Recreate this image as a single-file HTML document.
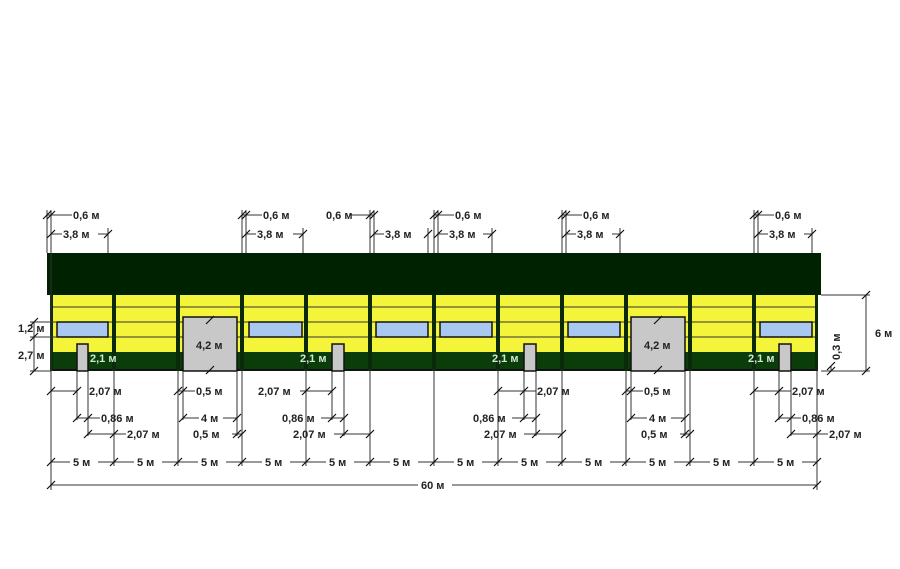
<!DOCTYPE html>
<html><head><meta charset="utf-8"><style>
html,body{margin:0;padding:0;background:#fff;}
svg{display:block;}
text{font-family:"Liberation Sans",sans-serif;font-weight:bold;font-size:11px;fill:#222;}
</style></head><body>
<svg width="900" height="569" viewBox="0 0 900 569" xmlns="http://www.w3.org/2000/svg">
<defs>
<g id="t"><line x1="-4" y1="4" x2="4" y2="-4" stroke="#111" stroke-width="1.2"/></g>
</defs>
<!-- wall -->
<rect x="51" y="295" width="766" height="76" fill="#f4f43a"/>
<g stroke="#333" stroke-width="1">
<line x1="51" y1="307" x2="817" y2="307"/>
<line x1="51" y1="322" x2="817" y2="322"/>
<line x1="51" y1="337" x2="817" y2="337"/>
</g>
<rect x="51" y="352" width="766" height="19" fill="#0b3d0b"/>
<rect x="51" y="369" width="766" height="2" fill="#111"/>
<!-- roof -->
<rect x="47" y="253" width="774" height="42" fill="#012201"/>
<!-- posts -->
<g fill="#0a2a0a">
<rect x="50" y="295" width="3" height="76"/>
<rect x="815" y="295" width="3" height="76"/>
<rect x="112" y="295" width="4" height="76"/><rect x="176" y="295" width="4" height="76"/>
<rect x="240" y="295" width="4" height="76"/><rect x="304" y="295" width="4" height="76"/>
<rect x="368" y="295" width="4" height="76"/><rect x="432" y="295" width="4" height="76"/>
<rect x="496" y="295" width="4" height="76"/><rect x="560" y="295" width="4" height="76"/>
<rect x="624" y="295" width="4" height="76"/><rect x="688" y="295" width="4" height="76"/>
<rect x="752" y="295" width="4" height="76"/>
</g>
<!-- windows -->
<g fill="#a8c8f0" stroke="#111" stroke-width="1.5">
<rect x="57" y="322" width="51" height="15"/>
<rect x="249" y="322" width="53" height="15"/>
<rect x="376" y="322" width="52" height="15"/>
<rect x="440" y="322" width="52" height="15"/>
<rect x="568" y="322" width="52" height="15"/>
<rect x="760" y="322" width="52" height="15"/>
</g>
<!-- doors -->
<g fill="#c8c8c8" stroke="#111" stroke-width="1.5">
<rect x="183" y="317" width="54" height="54"/>
<rect x="631" y="317" width="54" height="54"/>
<rect x="77" y="344" width="11" height="27"/>
<rect x="332" y="344" width="12" height="27"/>
<rect x="524" y="344" width="12" height="27"/>
<rect x="779" y="344" width="12" height="27"/>
</g>
<!-- extension lines -->
<g stroke="#333" stroke-width="1">
<line x1="47" y1="210" x2="47" y2="253"/><line x1="51" y1="210" x2="51" y2="490"/><line x1="108" y1="228" x2="108" y2="253"/>
<line x1="242" y1="210" x2="242" y2="253"/><line x1="246" y1="210" x2="246" y2="253"/><line x1="303" y1="228" x2="303" y2="253"/>
<line x1="370" y1="210" x2="370" y2="253"/><line x1="374" y1="210" x2="374" y2="253"/><line x1="428" y1="228" x2="428" y2="253"/>
<line x1="434" y1="210" x2="434" y2="253"/><line x1="438" y1="210" x2="438" y2="253"/><line x1="492" y1="228" x2="492" y2="253"/>
<line x1="562" y1="210" x2="562" y2="253"/><line x1="566" y1="210" x2="566" y2="253"/><line x1="620" y1="228" x2="620" y2="253"/>
<line x1="754" y1="210" x2="754" y2="253"/><line x1="758" y1="210" x2="758" y2="253"/><line x1="812" y1="228" x2="812" y2="253"/>
<line x1="817" y1="371" x2="817" y2="490"/>
<line x1="114" y1="371" x2="114" y2="466"/><line x1="178" y1="371" x2="178" y2="466"/><line x1="242" y1="371" x2="242" y2="466"/>
<line x1="306" y1="371" x2="306" y2="466"/><line x1="370" y1="371" x2="370" y2="466"/><line x1="434" y1="371" x2="434" y2="466"/>
<line x1="498" y1="371" x2="498" y2="466"/><line x1="562" y1="371" x2="562" y2="466"/><line x1="626" y1="371" x2="626" y2="466"/>
<line x1="690" y1="371" x2="690" y2="466"/><line x1="754" y1="371" x2="754" y2="466"/>
<line x1="77" y1="371" x2="77" y2="420"/><line x1="88" y1="371" x2="88" y2="436"/>
<line x1="183" y1="371" x2="183" y2="420"/><line x1="237" y1="371" x2="237" y2="436"/>
<line x1="332" y1="371" x2="332" y2="420"/><line x1="344" y1="371" x2="344" y2="436"/>
<line x1="524" y1="371" x2="524" y2="420"/><line x1="536" y1="371" x2="536" y2="436"/>
<line x1="631" y1="371" x2="631" y2="420"/><line x1="685" y1="371" x2="685" y2="436"/>
<line x1="779" y1="371" x2="779" y2="420"/><line x1="791" y1="371" x2="791" y2="436"/>
<!-- dim lines top -->
<line x1="47" y1="215" x2="72" y2="215"/><line x1="51" y1="234" x2="62" y2="234"/><line x1="98" y1="234" x2="108" y2="234"/>
<line x1="242" y1="215" x2="262" y2="215"/><line x1="246" y1="234" x2="256" y2="234"/><line x1="293" y1="234" x2="303" y2="234"/>
<line x1="350" y1="215" x2="374" y2="215"/><line x1="374" y1="234" x2="384" y2="234"/>
<line x1="434" y1="215" x2="454" y2="215"/><line x1="438" y1="234" x2="448" y2="234"/><line x1="483" y1="234" x2="492" y2="234"/>
<line x1="562" y1="215" x2="582" y2="215"/><line x1="566" y1="234" x2="576" y2="234"/><line x1="612" y1="234" x2="620" y2="234"/>
<line x1="754" y1="215" x2="774" y2="215"/><line x1="758" y1="234" x2="768" y2="234"/><line x1="804" y1="234" x2="812" y2="234"/>
<!-- bottom rows -->
<line x1="51" y1="391" x2="77" y2="391"/><line x1="178" y1="391" x2="195" y2="391"/>
<line x1="300" y1="391" x2="332" y2="391"/><line x1="498" y1="391" x2="536" y2="391"/>
<line x1="626" y1="391" x2="643" y2="391"/><line x1="754" y1="391" x2="791" y2="391"/>
<line x1="77" y1="418" x2="100" y2="418"/><line x1="183" y1="418" x2="199" y2="418"/><line x1="223" y1="418" x2="237" y2="418"/>
<line x1="321" y1="418" x2="344" y2="418"/><line x1="512" y1="418" x2="536" y2="418"/>
<line x1="631" y1="418" x2="647" y2="418"/><line x1="671" y1="418" x2="685" y2="418"/><line x1="779" y1="418" x2="801" y2="418"/>
<line x1="88" y1="434" x2="126" y2="434"/><line x1="232" y1="434" x2="242" y2="434"/>
<line x1="334" y1="434" x2="370" y2="434"/><line x1="524" y1="434" x2="562" y2="434"/>
<line x1="680" y1="434" x2="690" y2="434"/><line x1="791" y1="434" x2="828" y2="434"/>
<line x1="51" y1="462" x2="817" y2="462"/>
<line x1="51" y1="485" x2="817" y2="485"/>
<!-- left/right -->
<line x1="30" y1="322" x2="57" y2="322"/><line x1="30" y1="337" x2="57" y2="337"/><line x1="30" y1="371" x2="51" y2="371"/>
<line x1="34" y1="322" x2="34" y2="371"/>
<line x1="821" y1="295" x2="870" y2="295"/><line x1="821" y1="371" x2="870" y2="371"/>
<line x1="866" y1="295" x2="866" y2="371"/>
<line x1="831" y1="366" x2="831" y2="371"/>
</g>
<!-- label backgrounds for 5m -->
<g fill="#fff">
<rect x="70" y="455" width="28" height="14"/><rect x="134" y="455" width="28" height="14"/><rect x="198" y="455" width="28" height="14"/>
<rect x="262" y="455" width="28" height="14"/><rect x="326" y="455" width="28" height="14"/><rect x="390" y="455" width="28" height="14"/>
<rect x="454" y="455" width="28" height="14"/><rect x="518" y="455" width="28" height="14"/><rect x="582" y="455" width="28" height="14"/>
<rect x="646" y="455" width="28" height="14"/><rect x="710" y="455" width="28" height="14"/><rect x="774" y="455" width="28" height="14"/>
<rect x="418" y="478" width="34" height="14"/>
<rect x="62" y="227" width="36" height="14"/><rect x="256" y="227" width="37" height="14"/><rect x="448" y="227" width="35" height="14"/>
<rect x="576" y="227" width="36" height="14"/><rect x="768" y="227" width="36" height="14"/>
<rect x="200" y="411" width="22" height="14"/><rect x="648" y="411" width="22" height="14"/>
</g>
<!-- ticks -->
<g>
<use href="#t" x="47" y="215"/><use href="#t" x="51" y="215"/><use href="#t" x="51" y="234"/><use href="#t" x="108" y="234"/>
<use href="#t" x="242" y="215"/><use href="#t" x="246" y="215"/><use href="#t" x="246" y="234"/><use href="#t" x="303" y="234"/>
<use href="#t" x="370" y="215"/><use href="#t" x="374" y="215"/><use href="#t" x="374" y="234"/><use href="#t" x="428" y="234"/>
<use href="#t" x="434" y="215"/><use href="#t" x="438" y="215"/><use href="#t" x="438" y="234"/><use href="#t" x="492" y="234"/>
<use href="#t" x="562" y="215"/><use href="#t" x="566" y="215"/><use href="#t" x="566" y="234"/><use href="#t" x="620" y="234"/>
<use href="#t" x="754" y="215"/><use href="#t" x="758" y="215"/><use href="#t" x="758" y="234"/><use href="#t" x="812" y="234"/>
<use href="#t" x="51" y="391"/><use href="#t" x="77" y="391"/><use href="#t" x="178" y="391"/><use href="#t" x="183" y="391"/>
<use href="#t" x="306" y="391"/><use href="#t" x="332" y="391"/><use href="#t" x="498" y="391"/><use href="#t" x="524" y="391"/>
<use href="#t" x="626" y="391"/><use href="#t" x="631" y="391"/><use href="#t" x="754" y="391"/><use href="#t" x="779" y="391"/>
<use href="#t" x="77" y="418"/><use href="#t" x="88" y="418"/><use href="#t" x="183" y="418"/><use href="#t" x="237" y="418"/>
<use href="#t" x="332" y="418"/><use href="#t" x="344" y="418"/><use href="#t" x="524" y="418"/><use href="#t" x="536" y="418"/>
<use href="#t" x="631" y="418"/><use href="#t" x="685" y="418"/><use href="#t" x="779" y="418"/><use href="#t" x="791" y="418"/>
<use href="#t" x="88" y="434"/><use href="#t" x="114" y="434"/><use href="#t" x="237" y="434"/><use href="#t" x="242" y="434"/>
<use href="#t" x="344" y="434"/><use href="#t" x="370" y="434"/><use href="#t" x="536" y="434"/><use href="#t" x="562" y="434"/>
<use href="#t" x="685" y="434"/><use href="#t" x="690" y="434"/><use href="#t" x="791" y="434"/><use href="#t" x="817" y="434"/>
<use href="#t" x="51" y="462"/><use href="#t" x="114" y="462"/><use href="#t" x="178" y="462"/><use href="#t" x="242" y="462"/>
<use href="#t" x="306" y="462"/><use href="#t" x="370" y="462"/><use href="#t" x="434" y="462"/><use href="#t" x="498" y="462"/>
<use href="#t" x="562" y="462"/><use href="#t" x="626" y="462"/><use href="#t" x="690" y="462"/><use href="#t" x="754" y="462"/><use href="#t" x="817" y="462"/>
<use href="#t" x="51" y="485"/><use href="#t" x="817" y="485"/>
<use href="#t" x="34" y="322"/><use href="#t" x="34" y="337"/><use href="#t" x="34" y="371"/>
<use href="#t" x="866" y="295"/><use href="#t" x="866" y="371"/><use href="#t" x="831" y="366"/><use href="#t" x="831" y="371"/>
<use href="#t" x="210" y="320"/><use href="#t" x="210" y="370"/><use href="#t" x="658" y="320"/><use href="#t" x="658" y="370"/>
</g>
<!-- labels -->
<text x="73" y="219">0,6 м</text><text x="63" y="238">3,8 м</text>
<text x="263" y="219">0,6 м</text><text x="257" y="238">3,8 м</text>
<text x="326" y="219">0,6 м</text><text x="385" y="238">3,8 м</text>
<text x="455" y="219">0,6 м</text><text x="449" y="238">3,8 м</text>
<text x="583" y="219">0,6 м</text><text x="577" y="238">3,8 м</text>
<text x="775" y="219">0,6 м</text><text x="769" y="238">3,8 м</text>
<text x="18" y="332">1,2 м</text><text x="18" y="359">2,7 м</text>
<text x="875" y="337">6 м</text>
<text x="0" y="0" transform="translate(840,360) rotate(-90)">0,3 м</text>
<text x="196" y="349">4,2 м</text><text x="644" y="349">4,2 м</text>
<g style="fill:#c8f0c8"><text x="90" y="362" style="fill:#cfe8cf">2,1 м</text><text x="300" y="362" style="fill:#cfe8cf">2,1 м</text><text x="492" y="362" style="fill:#cfe8cf">2,1 м</text><text x="748" y="362" style="fill:#cfe8cf">2,1 м</text></g>
<text x="89" y="395">2,07 м</text><text x="196" y="395">0,5 м</text><text x="258" y="395">2,07 м</text>
<text x="537" y="395">2,07 м</text><text x="644" y="395">0,5 м</text><text x="792" y="395">2,07 м</text>
<text x="101" y="422">0,86 м</text><text x="201" y="422">4 м</text><text x="282" y="422">0,86 м</text>
<text x="473" y="422">0,86 м</text><text x="649" y="422">4 м</text><text x="802" y="422">0,86 м</text>
<text x="127" y="438">2,07 м</text><text x="193" y="438">0,5 м</text><text x="293" y="438">2,07 м</text>
<text x="484" y="438">2,07 м</text><text x="641" y="438">0,5 м</text><text x="829" y="438">2,07 м</text>
<text x="73" y="466">5 м</text><text x="137" y="466">5 м</text><text x="201" y="466">5 м</text><text x="265" y="466">5 м</text>
<text x="329" y="466">5 м</text><text x="393" y="466">5 м</text><text x="457" y="466">5 м</text><text x="521" y="466">5 м</text>
<text x="585" y="466">5 м</text><text x="649" y="466">5 м</text><text x="713" y="466">5 м</text><text x="777" y="466">5 м</text>
<text x="421" y="489">60 м</text>
</svg>
</body></html>
